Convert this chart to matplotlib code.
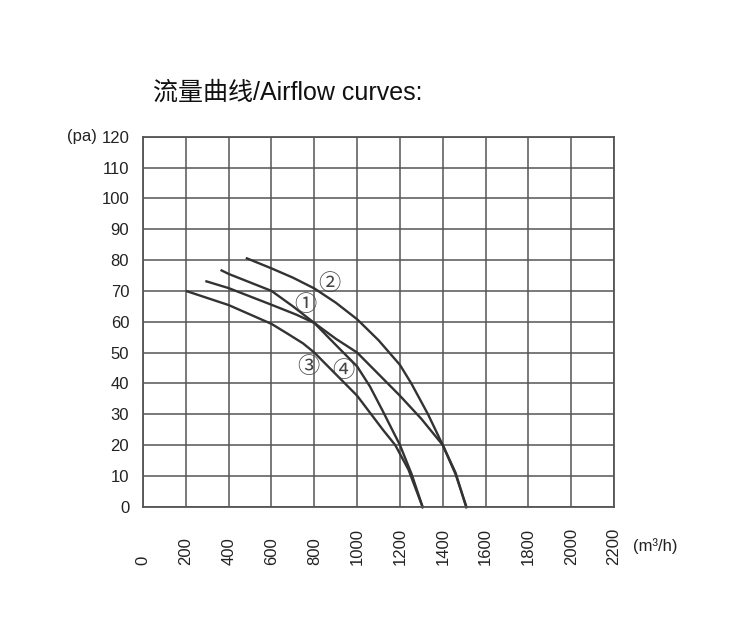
import numpy as np
from matplotlib import pyplot as plt

plt.rcParams["font.family"] = ["Liberation Sans", "Noto Sans CJK SC", "DejaVu Sans"]

# airflow (m3/h) vs static pressure (pa)
flow_1 = [362, 400, 600, 700, 800, 900, 1000, 1100, 1200, 1300, 1400, 1460, 1511]
pres_1 = [76.8, 75.5, 70, 65, 59.6, 54.5, 50, 43, 36, 28.5, 20, 11, -0.5]

flow_2 = [480, 600, 700, 800, 900, 1000, 1100, 1200, 1253, 1331, 1400, 1460, 1513]
pres_2 = [80.7, 77.3, 74.3, 70.8, 66.2, 60.8, 54, 46, 40, 30, 20, 10.5, -0.5]

flow_3 = [200, 400, 600, 671, 747, 800, 900, 1000, 1060, 1120, 1178, 1240, 1308]
pres_3 = [70, 65.4, 59.3, 56.3, 53, 50, 43, 36, 30.5, 25, 20, 12, -0.5]

flow_4 = [291, 400, 600, 716, 800, 900, 1000, 1060, 1120, 1200, 1255, 1308]
pres_4 = [73.2, 70.9, 65.5, 62.3, 59.6, 52.5, 45.5, 39, 31, 20, 10.5, -0.5]

curve_labels = ["①", "②", "③", "④"]
label_pos = [(757, 65.5), (869, 72.3), (771, 45.4), (934, 44.1)]

x_ticks = np.arange(0, 2201, 200)
y_ticks = np.arange(0, 121, 10)

fig = plt.figure(figsize=(7.5, 6.33), dpi=100)
ax = fig.add_axes([0.1907, 0.1995, 0.628, 0.5845])

ax.set_xlim(0, 2200)
ax.set_ylim(0, 120)
ax.set_xticks(x_ticks)
ax.set_yticks(y_ticks)
ax.grid(True, color="#555555", linewidth=1.1)
ax.set_axisbelow(True)
for s in ax.spines.values():
    s.set_color("#555555")
    s.set_linewidth(1.3)

ax.tick_params(axis="both", length=0, labelsize=12, colors="#222222")
ax.tick_params(axis="y", pad=10)
ax.tick_params(axis="x", pad=42)
ax.set_xticklabels([str(v) for v in x_ticks], rotation=90, ha="left",
                   va="center", rotation_mode="anchor")

for fx, py in [(flow_1, pres_1), (flow_2, pres_2), (flow_3, pres_3), (flow_4, pres_4)]:
    ax.plot(fx, py, color="#333333", linewidth=1.7, clip_on=False,
            solid_joinstyle="round", solid_capstyle="butt")

for lab, (lx, ly) in zip(curve_labels, label_pos):
    ax.text(lx, ly, lab, fontsize=16, color="#444444", ha="center", va="center",
            family=["Noto Sans CJK SC", "DejaVu Sans"])

ax.text(-0.098, 1.0, "(pa)", transform=ax.transAxes, fontsize=12,
        ha="right", va="center", color="#222222")
ax.text(1.04, -0.105, "(m³/h)", transform=ax.transAxes, fontsize=12,
        ha="left", va="center", color="#222222")

fig.text(0.204, 0.853, "流量曲线/Airflow curves:", fontsize=18,
         ha="left", va="center", color="#111111")

fig.savefig("out.png", dpi=100, facecolor="white")
